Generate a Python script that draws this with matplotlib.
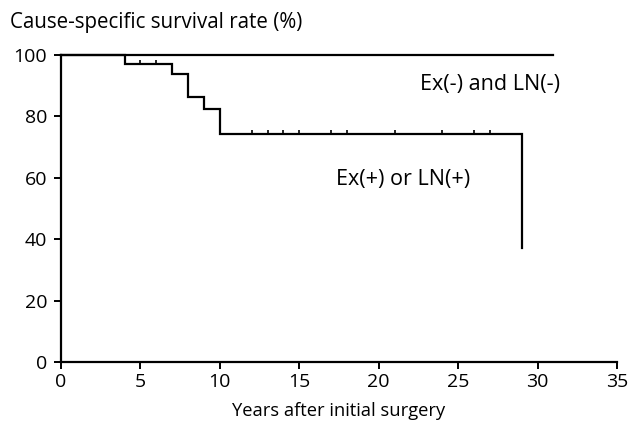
import matplotlib
matplotlib.use("Agg")
import matplotlib.pyplot as plt

plt.rcParams['font.family'] = ['Open Sans', 'DejaVu Sans']

# Ex(+) or LN(+) group: step curve (time in years, survival %)
pos_times = [0, 4, 7, 8, 9, 10, 29]
pos_surv = [100, 97.2, 93.8, 86.2, 82.5, 74.3, 37.0]
pos_end = 29
pos_censor_t = [5, 6, 12, 13, 14, 15, 17, 18, 21, 24, 26, 27]

# Ex(-) and LN(-) group: no events
neg_times = [0]
neg_surv = [100]
neg_end = 31

x_ticks = [0, 5, 10, 15, 20, 25, 30, 35]
y_ticks = [0, 20, 40, 60, 80, 100]


def surv_at(t, times, surv):
    val = surv[0]
    for ti, si in zip(times, surv):
        if ti <= t:
            val = si
    return val


fig = plt.figure(figsize=(6.33, 4.3), dpi=100)
ax = fig.add_axes([0.0964, 0.158, 0.8783, 0.714])

ax.step(pos_times + [pos_end], pos_surv + [pos_surv[-1]], where='post',
        color='black', lw=1.6, solid_joinstyle='miter', clip_on=False)
ax.step(neg_times + [neg_end], neg_surv + [neg_surv[-1]], where='post',
        color='black', lw=1.6, clip_on=False)

cens_y = [surv_at(t, pos_times, pos_surv) for t in pos_censor_t]
ax.plot(pos_censor_t, cens_y, linestyle='none', marker=2, markersize=3,
        markeredgewidth=1.2, color='black')

ax.text(22.6, 90.5, 'Ex(-) and LN(-)', fontsize=15.5, va='center')
ax.text(17.3, 59.5, 'Ex(+) or LN(+)', fontsize=15.5, va='center')

ax.set_xlim(0, 35)
ax.set_ylim(0, 100)
ax.set_xticks(x_ticks)
ax.set_yticks(y_ticks)
ax.tick_params(labelsize=14, direction='out', length=5, width=1.4, pad=3)
ax.tick_params(axis='y', pad=5)
for side in ['top', 'right']:
    ax.spines[side].set_visible(False)
for side in ['left', 'bottom']:
    ax.spines[side].set_linewidth(1.6)
ax.spines['left'].set_bounds(0, 100)

ax.set_xlabel('Years after initial surgery', fontsize=13.2, labelpad=8)
fig.text(0.016, 0.948, 'Cause-specific survival rate (%)', fontsize=14.8, va='center')

fig.savefig('out.png', dpi=100)
